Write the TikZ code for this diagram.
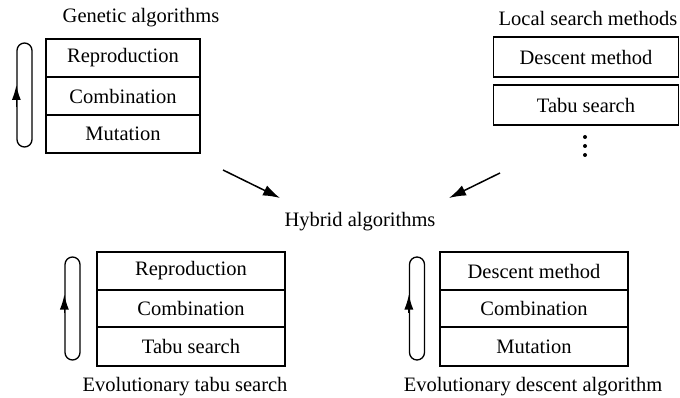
\documentclass[tikz,border=0pt]{standalone}
\usepackage{fontspec}
\setmainfont{Liberation Serif}
\usetikzlibrary{arrows.meta,calc}
\begin{document}
\begin{tikzpicture}[x=1pt,y=-1pt,
  lbl/.style={font=\fontsize{20.5}{24}\selectfont, inner sep=0pt},
  row/.style={draw, line width=1.3pt, minimum height=38pt, inner sep=0pt, font=\fontsize{20.5}{24}\selectfont},
  loopbox/.style={draw, line width=1.3pt, rounded corners=7.5pt, minimum width=15pt, inner sep=0pt},
  looparrow/.style={line width=1.3pt, -{Latex[length=15pt,width=9pt]}},
  conn/.style={line width=1.5pt, -{Latex[length=17pt,width=11pt]}},
  dot/.style={circle, fill, inner sep=0pt, minimum size=4pt}
]
\useasboundingbox (0,0) rectangle (680,398);
\fill[white] (0,0) rectangle (680,398);

% Genetic algorithms
\node[lbl] (gat) at (141,18) {Genetic algorithms};
\node[row, minimum width=154pt] (g1) at (123,58) {Reproduction};
\node[row, minimum width=154pt] (g2) at (123,96) {Combination};
\node[row, minimum width=154pt] (g3) at (123,134) {Mutation};
\node[loopbox, minimum height=104pt] (gl) at (24.5,95) {};
\draw[looparrow] ($(gl.west)+(0,12)$) -- ($(gl.west)+(0,-10)$);

% Local search methods
\node[lbl] (lst) at (588,18) {Local search methods};
\node[row, minimum width=185pt, minimum height=40pt] (l1) at (586,57) {Descent method};
\node[row, minimum width=185pt, minimum height=40pt] (l2) at (586,105) {Tabu search};
\node[dot] (d1) at (585,137) {};
\node[dot] (d2) at (585,146) {};
\node[dot] (d3) at (585,155) {};

% Hybrid
\node[lbl] (hy) at (360,222) {Hybrid algorithms};
\coordinate (a1s) at (223,170);
\coordinate (a1e) at (280,198);
\coordinate (a2s) at (500,173);
\coordinate (a2e) at (449,198);
\draw[conn] (a1s) -- (a1e);
\draw[conn] (a2s) -- (a2e);

% Evolutionary tabu search
\node[row, minimum width=188pt] (t1) at (191,271) {Reproduction};
\node[row, minimum width=188pt, minimum height=37pt] (t2) at (191,308.5) {Combination};
\node[row, minimum width=188pt, minimum height=39pt] (t3) at (191,346.5) {Tabu search};
\node[loopbox, minimum height=103pt] (tl) at (72.5,308.5) {};
\draw[looparrow] ($(tl.west)+(0,4)$) -- ($(tl.west)+(0,-14)$);
\node[lbl] (tt) at (185,387) {Evolutionary tabu search};

% Evolutionary descent algorithm
\node[row, minimum width=188pt] (e1) at (534,271) {Descent method};
\node[row, minimum width=188pt, minimum height=37pt] (e2) at (534,308.5) {Combination};
\node[row, minimum width=188pt, minimum height=39pt] (e3) at (534,346.5) {Mutation};
\node[loopbox, minimum height=103pt] (el) at (417,308.5) {};
\draw[looparrow] ($(el.west)+(0,4)$) -- ($(el.west)+(0,-14)$);
\node[lbl] (et) at (533,387) {Evolutionary descent algorithm};
\end{tikzpicture}
\end{document}
